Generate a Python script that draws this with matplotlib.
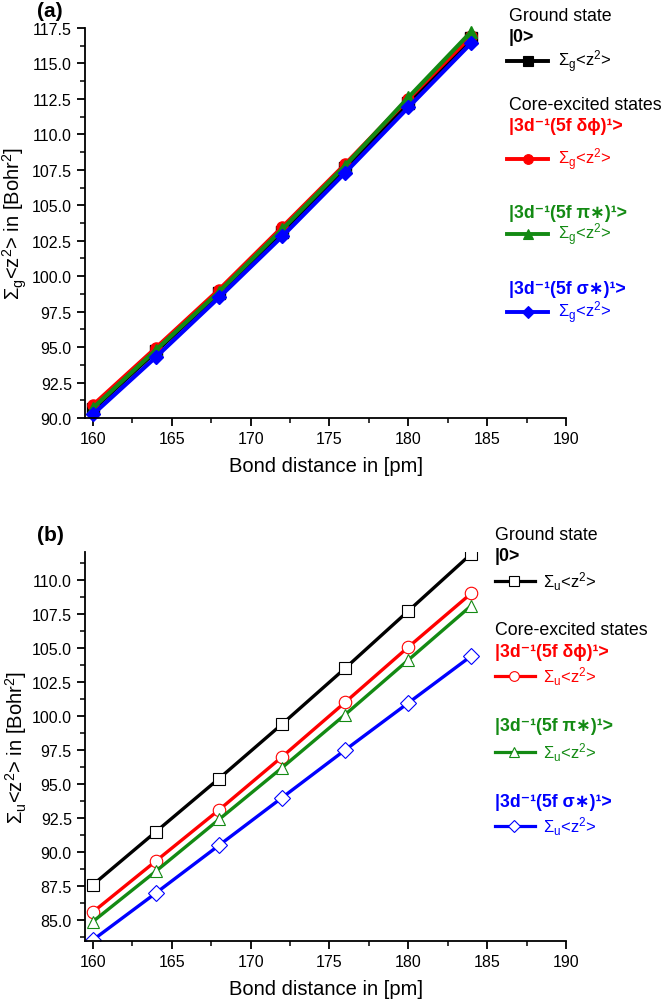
import matplotlib
matplotlib.use("Agg")
from matplotlib import pyplot as plt
from matplotlib.lines import Line2D
from matplotlib.ticker import MultipleLocator, FormatStrFormatter

plt.rcParams['font.family'] = ['Liberation Sans', 'DejaVu Sans']
plt.rcParams['mathtext.default'] = 'regular'

bond = [160, 164, 168, 172, 176, 180, 184]

# panel (a): Sigma_g <z^2>
g_ground = [90.6, 94.7, 98.8, 103.1, 107.6, 112.2, 116.8]
g_dphi = [90.9, 94.95, 99.05, 103.45, 107.9, 112.5, 116.95]
g_pi = [90.7, 94.8, 98.9, 103.3, 107.8, 112.6, 117.25]
g_sigma = [90.25, 94.3, 98.5, 102.8, 107.3, 111.9, 116.45]

# panel (b): Sigma_u <z^2>
u_ground = [87.6, 91.5, 95.4, 99.4, 103.5, 107.7, 111.9]
u_dphi = [85.6, 89.35, 93.1, 97.0, 101.0, 105.05, 109.0]
u_pi = [84.9, 88.6, 92.4, 96.2, 100.1, 104.1, 108.1]
u_sigma = [83.55, 87.0, 90.5, 94.0, 97.5, 100.95, 104.4]

colors = ['black', '#ff0000', '#138a13', '#0000ff']
markers = ['s', 'o', '^', 'D']
headers = ['|0>', '|3d⁻¹(5f δϕ)¹>', '|3d⁻¹(5f π∗)¹>', '|3d⁻¹(5f σ∗)¹>']

fig = plt.figure(figsize=(6.62, 10.04), dpi=100)
ax_a = fig.add_axes([0.1284, 0.5827, 0.7266, 0.3884])
ax_b = fig.add_axes([0.1284, 0.0621, 0.7266, 0.3874])


def style_axes(ax, ylim, ylabel):
    ax.set_xlim(159.5, 190)
    ax.set_ylim(*ylim)
    ax.spines['top'].set_visible(False)
    ax.spines['right'].set_visible(False)
    for s in ['left', 'bottom']:
        ax.spines[s].set_linewidth(1.3)
    ax.xaxis.set_major_locator(MultipleLocator(5))
    ax.xaxis.set_minor_locator(MultipleLocator(2.5))
    ax.yaxis.set_major_locator(MultipleLocator(2.5))
    ax.yaxis.set_minor_locator(MultipleLocator(1.25))
    ax.yaxis.set_major_formatter(FormatStrFormatter('%.1f'))
    ax.tick_params(which='major', length=6, width=1.3, labelsize=11.5, direction='out')
    ax.tick_params(which='minor', length=3.5, width=1.1, direction='out')
    ax.set_xlabel('Bond distance in [pm]', fontsize=14.5, labelpad=7)
    ax.set_ylabel(ylabel, fontsize=14.5, labelpad=2)


def draw_legend(ax, sub, filled, xs, ys):
    x_text, x0, x1, xm, xl = xs
    ax.text(x_text, ys[0], 'Ground state', transform=ax.transAxes,
            fontsize=12.8, va='center', ha='left')
    ax.text(x_text, ys[3], 'Core-excited states', transform=ax.transAxes,
            fontsize=12.8, va='center', ha='left')
    head_y = [ys[1], ys[4], ys[6], ys[8]]
    line_y = [ys[2], ys[5], ys[7], ys[9]]
    for c, m, h, hy, ly in zip(colors, markers, headers, head_y, line_y):
        ax.text(x_text, hy, h, transform=ax.transAxes, color=c,
                fontsize=12.8, fontweight='bold', va='center', ha='left')
        ax.add_line(Line2D([x0, x1], [ly, ly], transform=ax.transAxes,
                           color=c, lw=2.8 if filled else 2.3, clip_on=False))
        ax.add_line(Line2D([xm], [ly], transform=ax.transAxes, color=c,
                           marker=m, markersize=7 if m != 'D' else 6,
                           markerfacecolor=c if filled else 'white',
                           markeredgecolor=c, markeredgewidth=0.8,
                           clip_on=False))
        ax.text(xl, ly, 'Σ$_' + sub + '$<z$^2$>', transform=ax.transAxes,
                color=c, fontsize=12, va='center', ha='left')


# panel (a)
for y, c, m in zip([g_ground, g_dphi, g_pi, g_sigma], colors, markers):
    ax_a.plot(bond, y, color=c, lw=3.0, marker=m,
              markersize=8 if m != 'D' else 7, clip_on=False)
style_axes(ax_a, (90, 117.5), 'Σ$_g$<z$^2$> in [Bohr$^2$]')
draw_legend(ax_a, 'g', True,
            (0.881, 0.877, 0.963, 0.921, 0.983),
            [1.031, 0.977, 0.915, 0.805, 0.749, 0.664, 0.528, 0.472, 0.331, 0.272])
ax_a.text(-0.1, 1.045, '(a)', transform=ax_a.transAxes, fontsize=15,
          fontweight='bold', va='center', ha='left')

# panel (b)
for y, c, m in zip([u_ground, u_dphi, u_pi, u_sigma], colors, markers):
    ax_b.plot(bond, y, color=c, lw=2.4, marker=m,
              markersize=9 if m != 'D' else 8, markerfacecolor='white',
              markeredgecolor=c, markeredgewidth=0.8, clip_on=True)
style_axes(ax_b, (83.5, 112.05), 'Σ$_u$<z$^2$> in [Bohr$^2$]')
draw_legend(ax_b, 'u', False,
            (0.852, 0.852, 0.936, 0.892, 0.952),
            [1.045, 0.989, 0.925, 0.801, 0.743, 0.680, 0.552, 0.486, 0.357, 0.295])
ax_b.text(-0.1, 1.045, '(b)', transform=ax_b.transAxes, fontsize=15,
          fontweight='bold', va='center', ha='left')

fig.savefig('out.png', dpi=100)
